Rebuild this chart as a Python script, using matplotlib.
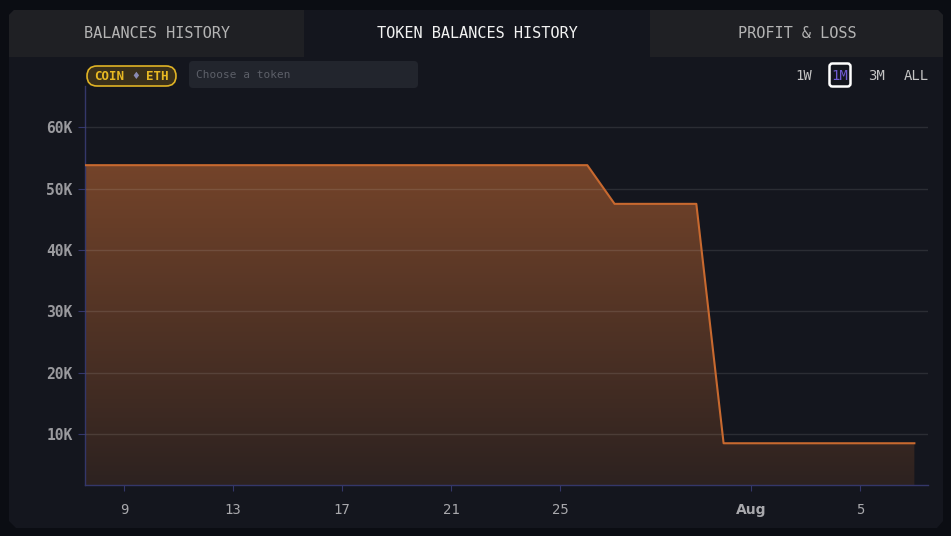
import numpy as np
import pandas as pd
import matplotlib
matplotlib.use('Agg')
import matplotlib.pyplot as plt
import matplotlib.dates as mdates
from matplotlib.patches import Polygon, FancyBboxPatch
from matplotlib.colors import LinearSegmentedColormap

# token balance (ETH chart, 1M range)
dates = ['2024-07-07 13:40', '2024-07-26 00:00', '2024-07-27 00:00',
         '2024-07-30 00:00', '2024-07-31 00:00', '2024-08-07 00:00']
values = [53800, 53800, 47500, 47500, 8500, 8500]

tick_dates = ['2024-07-09', '2024-07-13', '2024-07-17', '2024-07-21',
              '2024-07-25', '2024-08-01', '2024-08-05']
tick_labels = ['9', '13', '17', '21', '25', 'Aug', '5']
y_ticks = [10000, 20000, 30000, 40000, 50000, 60000]
y_labels = ['10K', '20K', '30K', '40K', '50K', '60K']

tabs = ['BALANCES HISTORY', 'TOKEN BALANCES HISTORY', 'PROFIT & LOSS']
periods = ['1W', '1M', '3M', 'ALL']

x = mdates.date2num(pd.to_datetime(dates))
xt = mdates.date2num(pd.to_datetime(tick_dates))

W, H = 951, 536
fig = plt.figure(figsize=(W / 100, H / 100), dpi=100)
fig.patch.set_facecolor('#0b0d13')
mono = 'DejaVu Sans Mono'

# background / frame in pixel coordinates
bg = fig.add_axes([0, 0, 1, 1])
bg.set_xlim(0, W)
bg.set_ylim(H, 0)
bg.axis('off')
bg.set_zorder(-1)
bg.add_patch(Polygon([(0, 0), (W, 0), (W, H), (0, H)], fc='#0b0d13', ec='none'))

card = [(14, 10), (938, 10), (943, 15), (943, 521), (937, 528),
        (16, 528), (9, 521), (9, 15)]
bg.add_patch(Polygon(card, closed=True, fc='#14161e', ec='none'))
bg.add_patch(Polygon([(14, 10), (304, 10), (304, 57), (9, 57), (9, 15)],
                     closed=True, fc='#1f2024', ec='none'))
bg.add_patch(Polygon([(650, 10), (938, 10), (943, 15), (943, 57), (650, 57)],
                     closed=True, fc='#1f2024', ec='none'))
tab_x = [157, 477, 797]
tab_c = ['#b4b4b4', '#f2f2f2', '#b4b4b4']
for t, tx, c in zip(tabs, tab_x, tab_c):
    bg.text(tx, 34, t, color=c, fontsize=11, family=mono, ha='center', va='center')

# coin / eth pill
bg.add_patch(FancyBboxPatch((87, 66), 89, 20, boxstyle='round,pad=0,rounding_size=10',
                            fc='#3a301a', ec='#e0b325', lw=1.2))
bg.text(109.5, 76.5, 'COIN', color='#e8b923', fontsize=9, family=mono, weight='bold',
        ha='center', va='center')
bg.text(136, 76, '\u2666', color='#8a8ab0', fontsize=7, ha='center', va='center')
bg.text(157.5, 76.5, 'ETH', color='#e8b923', fontsize=9, family=mono, weight='bold',
        ha='center', va='center')

# token search box
bg.add_patch(FancyBboxPatch((189, 61), 229, 27, boxstyle='round,pad=0,rounding_size=4',
                            fc='#22252d', ec='none'))
bg.text(196, 75.5, 'Choose a token', color='#5c5f68', fontsize=8, family=mono,
        ha='left', va='center')

# period buttons
per_x = [804, 840, 876, 916]
for p, px in zip(periods, per_x):
    c = '#6f5ad0' if p == '1M' else '#c4c4c4'
    bg.text(px, 75.5, p, color=c, fontsize=10, family=mono, ha='center', va='center')
bg.add_patch(FancyBboxPatch((829.5, 63.5), 21, 23, boxstyle='round,pad=0,rounding_size=3',
                            fc='none', ec='white', lw=1.8))

# chart
ax = fig.add_axes([85 / W, 51 / H, 843 / W, 399 / H])
ax.set_facecolor('none')
ax.set_xlim(x[0], mdates.date2num(pd.Timestamp('2024-08-07 12:00')))
ax.set_ylim(1700, 66700)

grad = LinearSegmentedColormap.from_list('g', ['#2d2220', '#77452a'])
img = ax.imshow(np.linspace(0, 1, 256).reshape(-1, 1), cmap=grad, aspect='auto',
                origin='lower', extent=[x[0], x[-1], 1700, 56000], zorder=1)
fill = ax.fill_between(x, values, 1700, color='none', lw=0)
clip = fill.get_paths()[0]
img.set_clip_path(clip, transform=ax.transData)
ax.plot(x, values, color='#c8692f', lw=1.5, zorder=3)

ax.set_yticks(y_ticks)
ax.set_yticklabels(y_labels)
ax.grid(axis='y', color='white', alpha=0.1, lw=1)
ax.set_axisbelow(False)
ax.set_xticks(xt)
ax.set_xticklabels(tick_labels)
for lab in ax.get_yticklabels():
    lab.set_family(mono)
    lab.set_weight('bold')
for i, lab in enumerate(ax.get_xticklabels()):
    if tick_labels[i] == 'Aug':
        lab.set_family('DejaVu Sans')
        lab.set_weight('bold')
    else:
        lab.set_family(mono)
ax.tick_params(axis='y', colors='#34376a', labelcolor='#9a9a9e', labelsize=10.5,
               length=5, pad=4)
ax.tick_params(axis='x', colors='#34376a', labelcolor='#a8a8ac', labelsize=10,
               length=4, pad=9)
for s in ['top', 'right']:
    ax.spines[s].set_visible(False)
for s in ['left', 'bottom']:
    ax.spines[s].set_color('#34376a')
    ax.spines[s].set_linewidth(1)

plt.savefig('out.png', dpi=100, facecolor=fig.get_facecolor())
